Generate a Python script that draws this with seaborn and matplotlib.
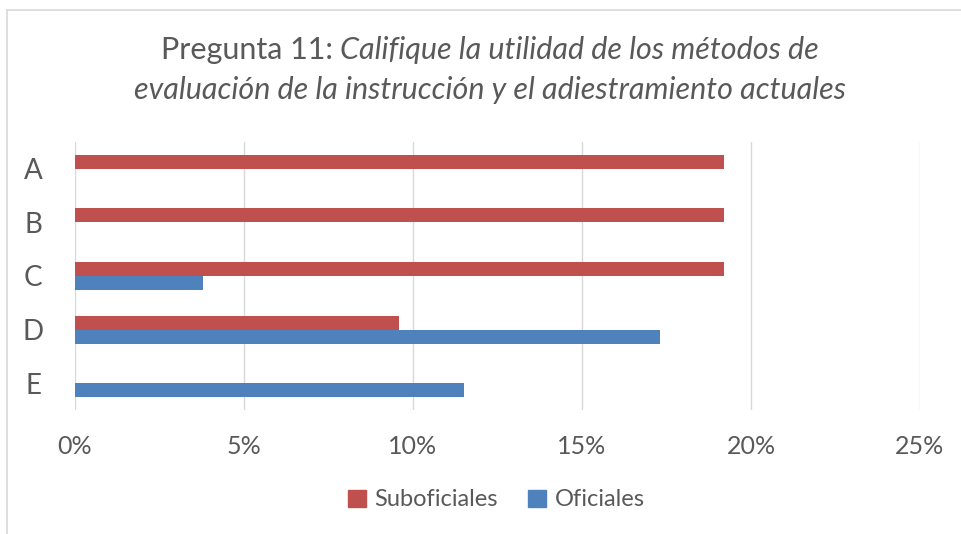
import pandas as pd
import seaborn as sns
import matplotlib.pyplot as plt
import matplotlib.ticker as ticker
from matplotlib.patches import Patch
from matplotlib.lines import Line2D

# datos (proporción de respuestas)
categories = ['A', 'B', 'C', 'D', 'E']
suboficiales = [0.192, 0.192, 0.192, 0.096, 0.0]
oficiales = [0.0, 0.0, 0.038, 0.173, 0.115]
series_names = ['Suboficiales', 'Oficiales']
x_ticks = [0, 0.05, 0.10, 0.15, 0.20, 0.25]

RED = '#C0504D'
BLUE = '#4F81BD'
TXT = '#595959'

df = pd.DataFrame({
    'cat': categories * 2,
    'serie': [series_names[0]] * len(categories) + [series_names[1]] * len(categories),
    'valor': suboficiales + oficiales,
})

sns.set_style('white')
plt.rcParams['font.family'] = ['Lato', 'DejaVu Sans']

fig = plt.figure(figsize=(9.62, 5.34), dpi=100)
ax = fig.add_axes([75 / 962, 1 - 410 / 534, (920 - 75) / 962, (410 - 142) / 534])

sns.barplot(data=df, x='valor', y='cat', hue='serie', orient='h',
            palette=[RED, BLUE], width=0.52, gap=0, ax=ax, legend=False,
            saturation=1, linewidth=0)

ax.set_xlim(0, 0.25)
ax.set_ylim(4.5, -0.5)
ax.set_xticks(x_ticks)
ax.xaxis.set_major_formatter(ticker.FuncFormatter(lambda v, p: f'{v*100:.0f}%'))
ax.grid(axis='x', color='#D9D9D9', linewidth=1)
ax.set_axisbelow(True)
for s in ax.spines.values():
    s.set_visible(False)
ax.tick_params(axis='both', length=0, colors=TXT)
ax.tick_params(axis='x', pad=18, labelsize=18)
ax.tick_params(axis='y', pad=30, labelsize=20)
for lbl in ax.get_yticklabels():
    lbl.set_horizontalalignment('center')
ax.set_xlabel('')
ax.set_ylabel('')

# título con parte en cursiva
title_size = 22
cx = 490 / 962
t1a = fig.text(0, 1 - 50 / 534, 'Pregunta 11: ', fontsize=title_size, color=TXT, va='center')
t1b = fig.text(0, 1 - 50 / 534, 'Califique la utilidad de los métodos de', fontsize=title_size,
               color=TXT, style='italic', va='center')
fig.text(cx, 1 - 90 / 534, 'evaluación de la instrucción y el adiestramiento actuales',
         fontsize=title_size, color=TXT, style='italic', va='center', ha='center')
fig.canvas.draw()
r = fig.canvas.get_renderer()
wa = t1a.get_window_extent(r).width / fig.bbox.width
wb = t1b.get_window_extent(r).width / fig.bbox.width
start = cx - (wa + wb) / 2
t1a.set_x(start)
t1b.set_x(start + wa)

# leyenda inferior
handles = [Patch(color=RED, label=series_names[0]), Patch(color=BLUE, label=series_names[1])]
leg = fig.legend(handles=handles, loc='center', bbox_to_anchor=(0.516, 1 - 500 / 534), ncol=2,
                 frameon=False, fontsize=17, handlelength=0.75, handleheight=0.75,
                 handletextpad=0.35, columnspacing=1.3)
for t in leg.get_texts():
    t.set_color(TXT)

# borde del área del gráfico
fig.add_artist(Line2D([7 / 962, 1], [1 - 10 / 534, 1 - 10 / 534], color='#D9D9D9', lw=1.2))
fig.add_artist(Line2D([7 / 962, 7 / 962], [0, 1 - 10 / 534], color='#D9D9D9', lw=1.2))

fig.savefig('out.png', dpi=100)
